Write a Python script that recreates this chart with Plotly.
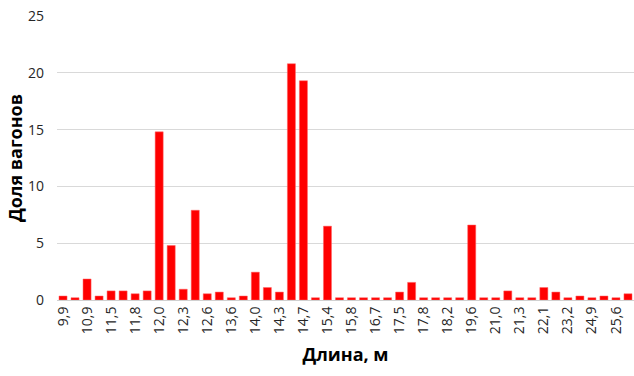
import plotly.graph_objects as go

categories = ["9,9", "10,4", "10,9", "11,2", "11,5", "11,7", "11,8", "11,9",
              "12,0", "12,1", "12,3", "12,4", "12,6", "13,0", "13,6", "13,8",
              "14,0", "14,2", "14,3", "14,6", "14,7", "15,0", "15,4", "15,6",
              "15,8", "16,2", "16,7", "17,0", "17,5", "17,7", "17,8", "18,0",
              "18,2", "19,0", "19,6", "20,0", "21,0", "21,2", "21,3", "21,6",
              "22,1", "22,6", "23,2", "24,0", "24,9", "25,2", "25,6", "26,0"]
values = [0.35, 0.2, 1.85, 0.35, 0.8, 0.8, 0.55, 0.8,
          14.8, 4.8, 0.95, 7.9, 0.55, 0.7, 0.2, 0.35,
          2.45, 1.1, 0.7, 20.8, 19.3, 0.2, 6.5, 0.2,
          0.2, 0.2, 0.2, 0.2, 0.7, 1.55, 0.2, 0.2,
          0.2, 0.2, 6.6, 0.2, 0.2, 0.8, 0.2, 0.2,
          1.1, 0.7, 0.2, 0.35, 0.2, 0.35, 0.2, 0.55]
tick_labels = categories[::2]
y_ticks = [0, 5, 10, 15, 20, 25]

fig = go.Figure(go.Bar(
    x=categories, y=values,
    marker=dict(color="#FF0000", line=dict(color="#FF6666", width=0.5)),
))

fig.update_layout(
    width=634, height=376,
    margin=dict(l=57, r=0, t=16, b=76),
    paper_bgcolor="white", plot_bgcolor="white",
    bargap=0.33,
    showlegend=False,
    font=dict(family="Open Sans, Liberation Sans, sans-serif", color="#262626", size=12),
    xaxis=dict(
        type="category",
        tickmode="array", tickvals=tick_labels, ticktext=tick_labels,
        tickangle=-90,
        tickfont=dict(size=14),
        showgrid=False,
        showline=True, linecolor="#d0d0d0", linewidth=1,
        ticks="",
        automargin=False,
        title=dict(text="<b>Длина, м</b>", font=dict(size=18, color="#000000"), standoff=15),
    ),
    yaxis=dict(
        range=[0, 25],
        tickvals=y_ticks,
        tickfont=dict(size=14),
        showgrid=True, gridcolor="#d9d9d9", gridwidth=1,
        zeroline=False,
        ticks="", ticklabelstandoff=12,
        automargin=False,
        title=dict(text="<b>Доля вагонов</b>", font=dict(size=18, color="#000000"), standoff=0),
    ),
)

fig.write_html("out.html",
               config={"displayModeBar": False},
               post_script="document.body.style.margin='0';document.body.style.padding='0';")
